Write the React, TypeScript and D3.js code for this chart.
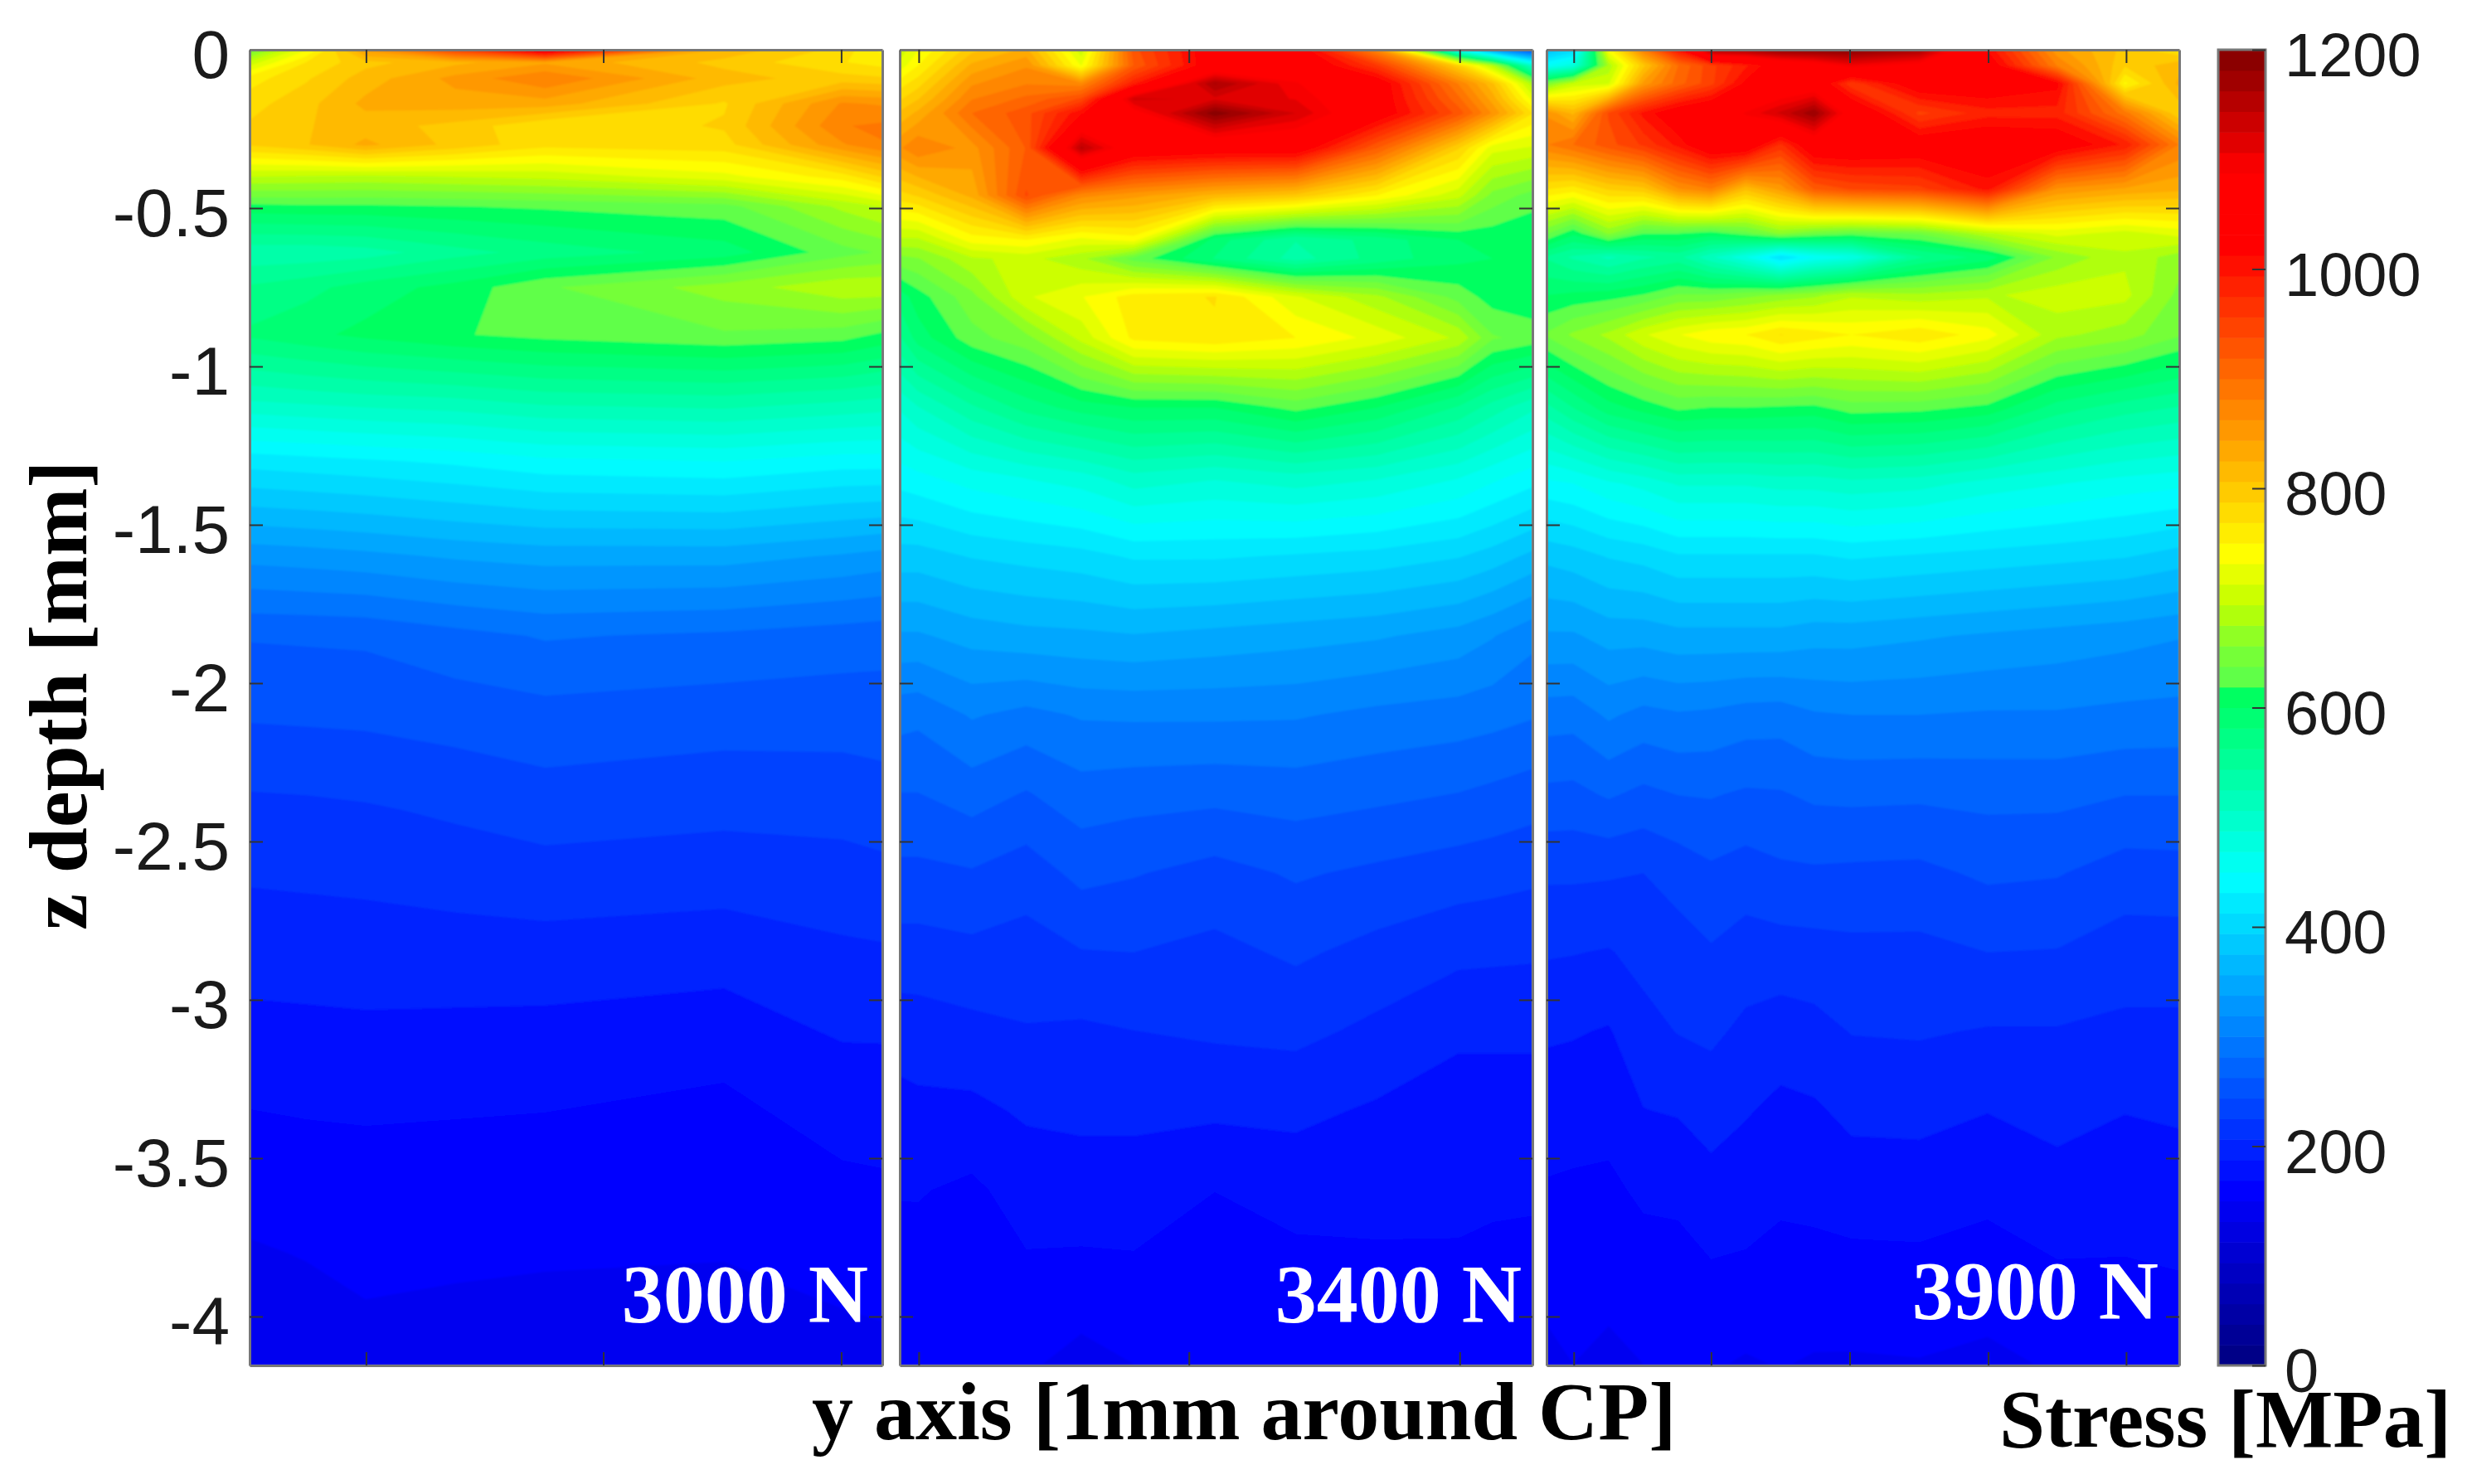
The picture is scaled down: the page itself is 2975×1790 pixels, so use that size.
import React, { useRef, useEffect } from 'react';
import * as d3 from 'd3';

// depth rows [mm below surface] and y positions (fraction of panel width) of the measured columns
const depths3000 = [0, 0.04, 0.09, 0.17, 0.24, 0.3, 0.4, 0.495, 0.64, 0.75, 0.9, 1.1, 1.3, 1.6, 1.85, 2.1, 2.4, 2.65, 2.9, 3.2, 3.5, 3.8, 4.15];
const depths3400 = [0, 0.05, 0.107, 0.155, 0.2, 0.31, 0.46, 0.6, 0.66, 0.78, 0.91, 1.13, 1.35, 1.6, 1.85, 2.1, 2.35, 2.6, 2.85, 3.1, 3.35, 3.6, 3.85, 4.15];
const depths3900 = [0, 0.05, 0.107, 0.2, 0.3, 0.44, 0.58, 0.655, 0.775, 0.9, 1.136, 1.37, 1.6, 1.85, 2.1, 2.35, 2.6, 2.85, 3.1, 3.35, 3.6, 3.85, 4.15];

const cols3000 = [0, 0.09, 0.183, 0.325, 0.467, 0.75, 0.937, 1];
const cols3400 = [0, 0.029, 0.114, 0.2, 0.287, 0.37, 0.498, 0.626, 0.754, 0.883, 0.937, 1];
const cols3900 = [0, 0.042, 0.098, 0.153, 0.208, 0.26, 0.315, 0.37, 0.423, 0.482, 0.589, 0.697, 0.807, 0.914, 1];

// stress [MPa], one list per column, top to bottom
const stress3000 = [
  [640, 700, 760, 780, 790, 790, 695, 612, 530, 565, 585, 510, 420, 325, 264, 246, 220, 206, 193, 176, 161, 148, 135],
  [730, 770, 785, 800, 805, 805, 692, 615, 530, 575, 595, 515, 424, 328, 265, 247, 221, 207, 194, 177, 163, 151, 138],
  [850, 800, 815, 830, 815, 830, 690, 615, 535, 590, 605, 520, 428, 332, 266, 248, 223, 208, 195, 178, 164, 155, 143],
  [950, 820, 850, 835, 800, 800, 695, 618, 555, 607, 617, 525, 435, 340, 275, 252, 228, 211, 195, 177, 163, 153, 142],
  [1070, 840, 880, 835, 770, 775, 700, 622, 570, 635, 625, 535, 445, 345, 283, 256, 234, 214, 195, 176, 162, 152, 140],
  [820, 800, 815, 785, 790, 780, 725, 630, 590, 665, 635, 540, 450, 345, 278, 252, 230, 211, 192, 171, 160, 151, 138],
  [780, 770, 795, 865, 880, 860, 760, 680, 630, 690, 628, 530, 440, 335, 272, 252, 231, 215, 200, 184, 169, 157, 143],
  [745, 760, 790, 860, 885, 880, 790, 695, 640, 690, 615, 525, 440, 330, 270, 253, 234, 217, 201, 184, 170, 158, 145],
];

const stress3400 = [
  [700, 720, 760, 785, 810, 860, 780, 690, 650, 590, 560, 490, 440, 385, 335, 288, 262, 239, 217, 196, 181, 170, 161, 151],
  [730, 750, 780, 805, 830, 880, 790, 690, 655, 610, 590, 505, 445, 385, 335, 286, 262, 239, 217, 197, 183, 170, 162, 152],
  [800, 830, 860, 880, 900, 855, 830, 740, 690, 650, 630, 540, 460, 395, 345, 302, 271, 242, 220, 201, 183, 165, 158, 150],
  [830, 860, 880, 905, 930, 920, 940, 750, 700, 710, 650, 570, 470, 400, 350, 294, 261, 234, 217, 205, 190, 177, 166, 153],
  [700, 730, 870, 940, 1010, 1150, 870, 725, 680, 730, 700, 590, 480, 405, 352, 302, 273, 249, 224, 203, 192, 178, 165, 143],
  [930, 920, 990, 1130, 1070, 1050, 850, 740, 630, 760, 755, 600, 500, 415, 355, 303, 270, 245, 225, 206, 192, 178, 166, 150],
  [1040, 1040, 1165, 1120, 1195, 1040, 820, 590, 580, 770, 765, 600, 490, 415, 350, 303, 268, 237, 220, 209, 191, 169, 160, 150],
  [1040, 1060, 1090, 1105, 1125, 1040, 800, 545, 535, 715, 750, 625, 500, 410, 345, 302, 271, 246, 228, 211, 192, 176, 163, 150],
  [870, 960, 1040, 1040, 1040, 920, 750, 570, 570, 680, 725, 600, 490, 405, 340, 295, 267, 240, 219, 202, 185, 175, 165, 150],
  [450, 790, 880, 905, 930, 790, 700, 600, 595, 630, 690, 560, 470, 395, 330, 291, 262, 234, 211, 190, 181, 173, 166, 152],
  [330, 690, 810, 835, 860, 720, 650, 605, 600, 610, 640, 535, 455, 385, 320, 288, 258, 232, 210, 190, 181, 172, 164, 151],
  [240, 500, 680, 725, 770, 710, 630, 600, 600, 605, 630, 510, 440, 370, 305, 283, 253, 229, 209, 190, 181, 172, 162, 150],
];

const stress3900 = [
  [370, 450, 650, 860, 880, 770, 640, 560, 600, 640, 535, 445, 380, 335, 290, 258, 228, 208, 190, 178, 167, 157, 145],
  [400, 480, 700, 820, 900, 760, 605, 540, 605, 660, 560, 450, 385, 335, 289, 257, 228, 207, 189, 176, 166, 159, 150],
  [740, 680, 710, 940, 930, 790, 660, 520, 610, 680, 590, 465, 395, 345, 303, 265, 227, 205, 186, 175, 165, 156, 146],
  [880, 800, 850, 1000, 960, 800, 620, 540, 620, 710, 605, 475, 400, 345, 294, 258, 225, 212, 200, 187, 172, 161, 150],
  [1000, 900, 910, 1040, 1000, 860, 620, 550, 640, 730, 620, 490, 410, 350, 298, 263, 232, 217, 207, 189, 173, 162, 150],
  [1170, 950, 950, 1060, 1050, 880, 610, 510, 640, 745, 615, 490, 410, 350, 296, 264, 240, 223, 210, 195, 181, 167, 152],
  [1170, 990, 1020, 1090, 1050, 810, 630, 470, 650, 750, 615, 490, 410, 350, 291, 260, 235, 216, 202, 189, 177, 166, 148],
  [1190, 1040, 1040, 1130, 970, 850, 660, 410, 660, 770, 612, 495, 410, 350, 290, 261, 240, 217, 197, 183, 173, 162, 151],
  [1195, 1060, 1050, 1180, 1050, 920, 640, 450, 670, 760, 610, 495, 410, 345, 298, 266, 241, 218, 200, 185, 173, 164, 148],
  [1195, 1100, 960, 1060, 1050, 940, 630, 470, 690, 750, 625, 500, 415, 345, 300, 267, 240, 220, 207, 192, 178, 163, 148],
  [1170, 1070, 1040, 950, 1040, 950, 640, 560, 680, 765, 622, 495, 410, 340, 300, 266, 239, 220, 208, 193, 178, 164, 149],
  [1010, 1040, 1040, 985, 1050, 1000, 690, 590, 690, 740, 610, 480, 405, 335, 298, 268, 247, 225, 205, 188, 174, 160, 146],
  [850, 880, 1020, 985, 1040, 860, 720, 660, 705, 680, 570, 470, 400, 330, 298, 268, 245, 224, 205, 193, 181, 167, 152],
  [800, 790, 745, 890, 990, 840, 705, 690, 700, 665, 550, 460, 395, 325, 295, 263, 235, 216, 202, 188, 178, 167, 153],
  [770, 820, 830, 790, 880, 830, 720, 665, 650, 640, 540, 455, 385, 320, 294, 263, 236, 216, 202, 190, 179, 169, 155],
];

const loads = ['3000 N', '3400 N', '3900 N'];
const depthTicks = [0, -0.5, -1, -1.5, -2, -2.5, -3, -3.5, -4];
const stressTicks = [0, 200, 400, 600, 800, 1000, 1200];
const yTicks3000 = [0.184, 0.559, 0.935];
const yTicks3400 = [0.03, 0.457, 0.885];
const yTicks3900 = [0.043, 0.26, 0.479, 0.698, 0.916];

const bandStep = 18.75; // 64 contour levels over 0-1200
const top = 60, bottom = 1647;

// the picture's jet map has a jump just above 600 MPa
const colorStops = [0, 160, 445, 610, 618.74, 618.76, 656, 694, 740, 880, 1020, 1090, 1200];
const colorValues = ['#000080', '#0000ff', '#00ffff', '#00ff60', '#00ff60', '#55ff50', '#80ff30', '#c0ff00', '#ffff00', '#ff8000', '#ff0000', '#ff0000', '#800000'];

const panels = [
  { left: 301, right: 1064, depths: depths3000, cols: cols3000, stress: stress3000, ticks: yTicks3000, label: loads[0], labelEnd: 1047, baseline: 1594 },
  { left: 1085, right: 1848, depths: depths3400, cols: cols3400, stress: stress3400, ticks: yTicks3400, label: loads[1], labelEnd: 1835, baseline: 1594 },
  { left: 1865, right: 2628, depths: depths3900, cols: cols3900, stress: stress3900, ticks: yTicks3900, label: loads[2], labelEnd: 2603, baseline: 1590 },
];

function App() {
  const ref = useRef<SVGSVGElement>(null);

  useEffect(() => {
    const svg = d3.select(ref.current);
    svg.selectAll('*').remove();

    const color = d3.scaleLinear<string>().domain(colorStops).range(colorValues).clamp(true);
    const thresholds = d3.range(0, 1200, bandStep);
    const depthY = d3.scaleLinear().domain([0, -(bottom - top) / 382]).range([top, bottom]);

    const defs = svg.append('defs');
    defs.append('filter').attr('id', 'soft').attr('x', '-2%').attr('y', '-2%').attr('width', '104%').attr('height', '104%')
      .append('feGaussianBlur').attr('stdDeviation', 1.3);

    panels.forEach((p, n) => {
      const x = d3.scaleLinear().domain([0, 1]).range([p.left, p.right]);
      const nx = p.cols.length, ny = p.depths.length;

      const flat: number[] = [];
      for (let r = 0; r < ny; r++) for (let c = 0; c < nx; c++) flat.push(p.stress[c][r]);

      // d3.contours sits on a unit grid with samples at i + 0.5, stretch it onto the real columns and rows
      const gridX = d3.scaleLinear()
        .domain([0, ...p.cols.map((_, i) => i + 0.5), nx])
        .range([x(0), ...p.cols.map(c => x(c)), x(1)]);
      const gridY = d3.scaleLinear()
        .domain([0, ...p.depths.map((_, i) => i + 0.5), ny])
        .range([depthY(0), ...p.depths.map(z => depthY(-z)), depthY(depthY.domain()[1])]);
      const path = d3.geoPath(d3.geoTransform({
        point(a, b) { this.stream.point(gridX(a), gridY(b)); },
      }));

      const clipId = 'clip' + n;
      defs.append('clipPath').attr('id', clipId).append('rect')
        .attr('x', p.left).attr('y', top).attr('width', p.right - p.left).attr('height', bottom - top);

      const contours = d3.contours().size([nx, ny]).thresholds(thresholds)(flat);
      svg.append('g').attr('clip-path', `url(#${clipId})`)
        .append('g').attr('filter', 'url(#soft)')
        .selectAll('path')
        .data(contours)
        .enter().append('path')
        .attr('d', path as any)
        .attr('fill', d => color(d.value + bandStep / 2));

      const frame = svg.append('g').attr('class', 'frame');
      const axes = [
        d3.axisLeft(depthY).tickValues(depthTicks),
        d3.axisRight(depthY).tickValues(depthTicks),
      ];
      axes.forEach((a, i) => {
        const g = frame.append('g')
          .attr('transform', `translate(${i === 0 ? p.left : p.right},0)`)
          .call(a.tickSizeInner(-16).tickSizeOuter(0).tickPadding(24).tickFormat(d => (i === 0 && n === 0 ? String(d) : '')));
        g.select('.domain').attr('stroke', '#777').attr('stroke-width', 3);
        g.selectAll('.tick line').attr('stroke', '#333').attr('stroke-width', 2);
        g.selectAll('.tick text').attr('fill', '#1a1a1a').attr('dy', '0.41em')
          .style('font-family', '"Liberation Sans"').style('font-size', '82px');
      });
      [d3.axisTop(x), d3.axisBottom(x)].forEach((a, i) => {
        const g = frame.append('g')
          .attr('transform', `translate(0,${i === 0 ? top : bottom})`)
          .call(a.tickValues(p.ticks).tickSizeInner(-16).tickSizeOuter(0).tickFormat(() => ''));
        g.select('.domain').attr('stroke', '#777').attr('stroke-width', 3);
        g.selectAll('.tick line').attr('stroke', '#333').attr('stroke-width', 2);
      });

      svg.append('text')
        .attr('x', p.labelEnd).attr('y', p.baseline)
        .attr('text-anchor', 'end').attr('fill', '#fff')
        .style('font-family', '"Liberation Serif"').style('font-weight', 'bold').style('font-size', '100px')
        .text(p.label);
    });

    // colour bar
    const stressY = d3.scaleLinear().domain([0, 1200]).range([bottom, top]);
    const barLeft = 2675, barRight = 2732;
    svg.append('g').selectAll('rect')
      .data(thresholds)
      .enter().append('rect')
      .attr('x', barLeft).attr('width', barRight - barLeft)
      .attr('y', d => stressY(d + bandStep))
      .attr('height', d => stressY(d) - stressY(d + bandStep) + 0.6)
      .attr('fill', d => color(d + bandStep / 2));
    svg.append('rect').attr('x', barLeft).attr('y', top).attr('width', barRight - barLeft).attr('height', bottom - top)
      .attr('fill', 'none').attr('stroke', '#777').attr('stroke-width', 3);
    const bar = svg.append('g').attr('transform', `translate(${barRight},0)`)
      .call(d3.axisRight(stressY).tickValues(stressTicks).tickSizeInner(-16).tickSizeOuter(0).tickPadding(23).tickFormat(d => String(d)));
    bar.select('.domain').remove();
    bar.selectAll('.tick line').attr('stroke', '#333').attr('stroke-width', 2);
    bar.selectAll('.tick text').attr('fill', '#1a1a1a').attr('dy', '0.43em')
      .style('font-family', '"Liberation Sans"').style('font-size', '74px');

    const titles = svg.append('g')
      .style('font-family', '"Liberation Serif"').style('font-weight', 'bold').style('font-size', '100px');
    titles.append('text').attr('x', 979).attr('y', 1736).text('y axis [1mm around CP]');
    titles.append('text').attr('x', 2411).attr('y', 1745).style('font-size', '99px').text('Stress [MPa]');
    titles.append('text').attr('transform', 'translate(104,1122) rotate(-90)').style('font-size', '99px').text('z depth [mm]');
  }, []);

  return <svg ref={ref} width={2975} height={1790} style={{ position: 'absolute', left: 0, top: 0, background: '#fff' }} />;
}

export default App;
